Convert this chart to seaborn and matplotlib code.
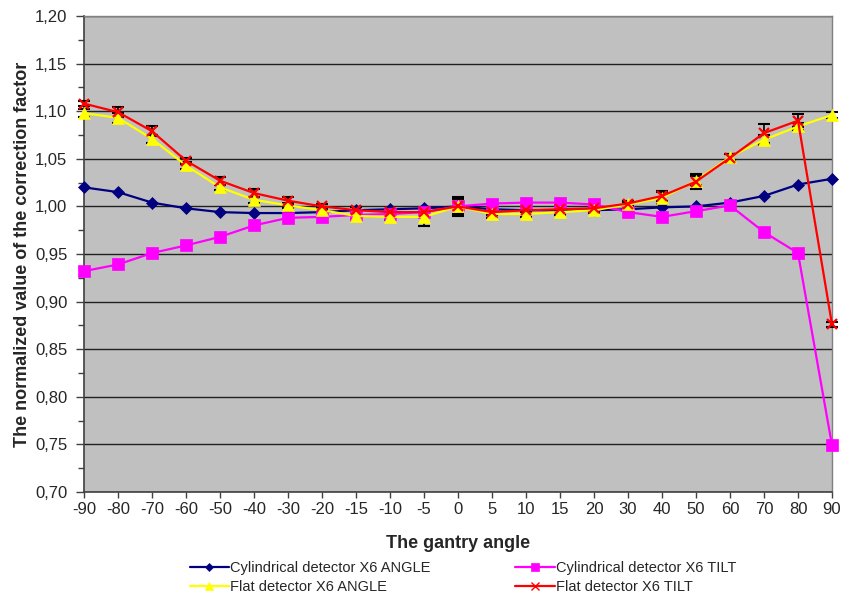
import numpy as np
import pandas as pd
import matplotlib
matplotlib.use("Agg")
import matplotlib.pyplot as plt
import seaborn as sns
from matplotlib.ticker import MultipleLocator, FuncFormatter
from matplotlib.lines import Line2D

angles = ["-90", "-80", "-70", "-60", "-50", "-40", "-30", "-20", "-15", "-10", "-5", "0",
          "5", "10", "15", "20", "30", "40", "50", "60", "70", "80", "90"]

cyl_angle = [1.020, 1.015, 1.004, 0.998, 0.994, 0.993, 0.993, 0.994, 0.996, 0.997, 0.998, 1.000,
             0.997, 0.996, 0.996, 0.996, 0.997, 0.999, 1.000, 1.004, 1.011, 1.023, 1.029]
cyl_tilt = [0.932, 0.939, 0.951, 0.959, 0.968, 0.980, 0.988, 0.989, 0.991, 0.992, 0.994, 1.000,
            1.003, 1.004, 1.004, 1.002, 0.994, 0.989, 0.995, 1.001, 0.973, 0.951, 0.749]
flat_angle = [1.098, 1.093, 1.071, 1.043, 1.020, 1.007, 1.001, 0.996, 0.990, 0.989, 0.989, 1.000,
              0.992, 0.992, 0.994, 0.996, 1.002, 1.009, 1.027, 1.052, 1.070, 1.084, 1.096]
flat_tilt = [1.108, 1.099, 1.079, 1.048, 1.027, 1.014, 1.006, 1.000, 0.996, 0.994, 0.994, 1.000,
             0.994, 0.996, 0.997, 0.998, 1.003, 1.011, 1.026, 1.051, 1.077, 1.090, 0.876]
flat_angle_err = [0.004, 0.005, 0.004, 0.004, 0.003, 0.003, 0.003, 0.003, 0.003, 0.003, 0.010, 0.008,
                  0.004, 0.003, 0.003, 0.003, 0.003, 0.006, 0.005, 0.003, 0.005, 0.004, 0.003]
flat_tilt_err = [0.003, 0.005, 0.005, 0.003, 0.004, 0.004, 0.004, 0.003, 0.003, 0.003, 0.004, 0.010,
                 0.003, 0.003, 0.003, 0.003, 0.003, 0.005, 0.008, 0.004, 0.010, 0.007, 0.003]

labels = ["Cylindrical detector X6 ANGLE", "Cylindrical detector X6 TILT",
          "Flat detector X6 ANGLE", "Flat detector X6 TILT"]

sns.set_theme(style="white")
plt.rcParams['font.family'] = ['Liberation Sans', 'DejaVu Sans']

fig = plt.figure(figsize=(8.42, 5.96), dpi=100)
ax = fig.add_axes([84/842, 1-492/596, (832-84)/842, (492-16)/596])
ax.set_facecolor("#C0C0C0")

pos = np.arange(len(angles))

# error bars (black)
ax.errorbar(pos, flat_angle, yerr=flat_angle_err, fmt="none", ecolor="black",
            elinewidth=1.2, capsize=4, capthick=1.5, zorder=3, clip_on=False)
ax.errorbar(pos, flat_tilt, yerr=flat_tilt_err, fmt="none", ecolor="black",
            elinewidth=1.2, capsize=4, capthick=1.5, zorder=3, clip_on=False)

styles = [
    (cyl_angle, "#000080", "D", 6.5, labels[0], 4),
    (cyl_tilt, "#FF00FF", "s", 8.5, labels[1], 6),
    (flat_angle, "#FFFF00", "^", 8.5, labels[2], 6),
    (flat_tilt, "#FF0000", "x", 7, labels[3], 6),
]
handles = []
for vals, col, mk, ms, lab, lms in styles:
    df = pd.DataFrame({"pos": pos, "val": vals})
    sns.lineplot(data=df, x="pos", y="val", ax=ax, color=col, linewidth=1.6,
                 marker=mk, markersize=ms, markeredgecolor=col, markerfacecolor=col,
                 markeredgewidth=1.6 if mk == "x" else 0.5, zorder=4)
    ln = ax.lines[-1]
    ln.set_clip_on(False)
    handles.append(Line2D([0], [0], color=col, lw=1.6, marker=mk,
                          markersize=lms, markeredgecolor=col, markerfacecolor=col,
                          markeredgewidth=1.0 if mk == "x" else 0.5))

ax.set_xlim(0, len(angles) - 1)
ax.set_ylim(0.70, 1.20)
ax.set_xticks(pos)
ax.set_xticklabels(angles, fontsize=12)
ax.yaxis.set_major_locator(MultipleLocator(0.05))
ax.yaxis.set_minor_locator(MultipleLocator(0.025))
ax.yaxis.set_major_formatter(FuncFormatter(lambda v, p: f"{v:.2f}".replace(".", ",")))
ax.tick_params(axis="y", which="major", labelsize=12, length=6, width=1, color="#404040",
               direction="out", left=True, pad=6)
ax.tick_params(axis="y", which="minor", length=4, width=1, color="#404040", direction="out", left=True)
ax.tick_params(axis="x", length=4, width=1, color="#404040", direction="out", bottom=True, pad=3)
ax.grid(axis="y", which="major", color="#202020", linewidth=1.0)
ax.set_axisbelow(True)
for s in ["top", "right"]:
    ax.spines[s].set_visible(True)
    ax.spines[s].set_color("#808080")
    ax.spines[s].set_linewidth(1)
for s in ["left", "bottom"]:
    ax.spines[s].set_color("#404040")
    ax.spines[s].set_linewidth(1.2)

ax.set_xlabel("The gantry angle", fontsize=13, fontweight="bold", labelpad=13)
ax.set_ylabel("The normalized value of the correction factor", fontsize=13, fontweight="bold", labelpad=3)

order = [0, 2, 1, 3]
fig.legend([handles[i] for i in order], [labels[i] for i in order], ncol=2,
           loc="center", bbox_to_anchor=(463/842, 1-577.5/596), frameon=False,
           fontsize=10.5, handlelength=2.7, columnspacing=5.8, handletextpad=0.1,
           labelspacing=0.3)

fig.savefig("out.png", dpi=100, facecolor="white")
